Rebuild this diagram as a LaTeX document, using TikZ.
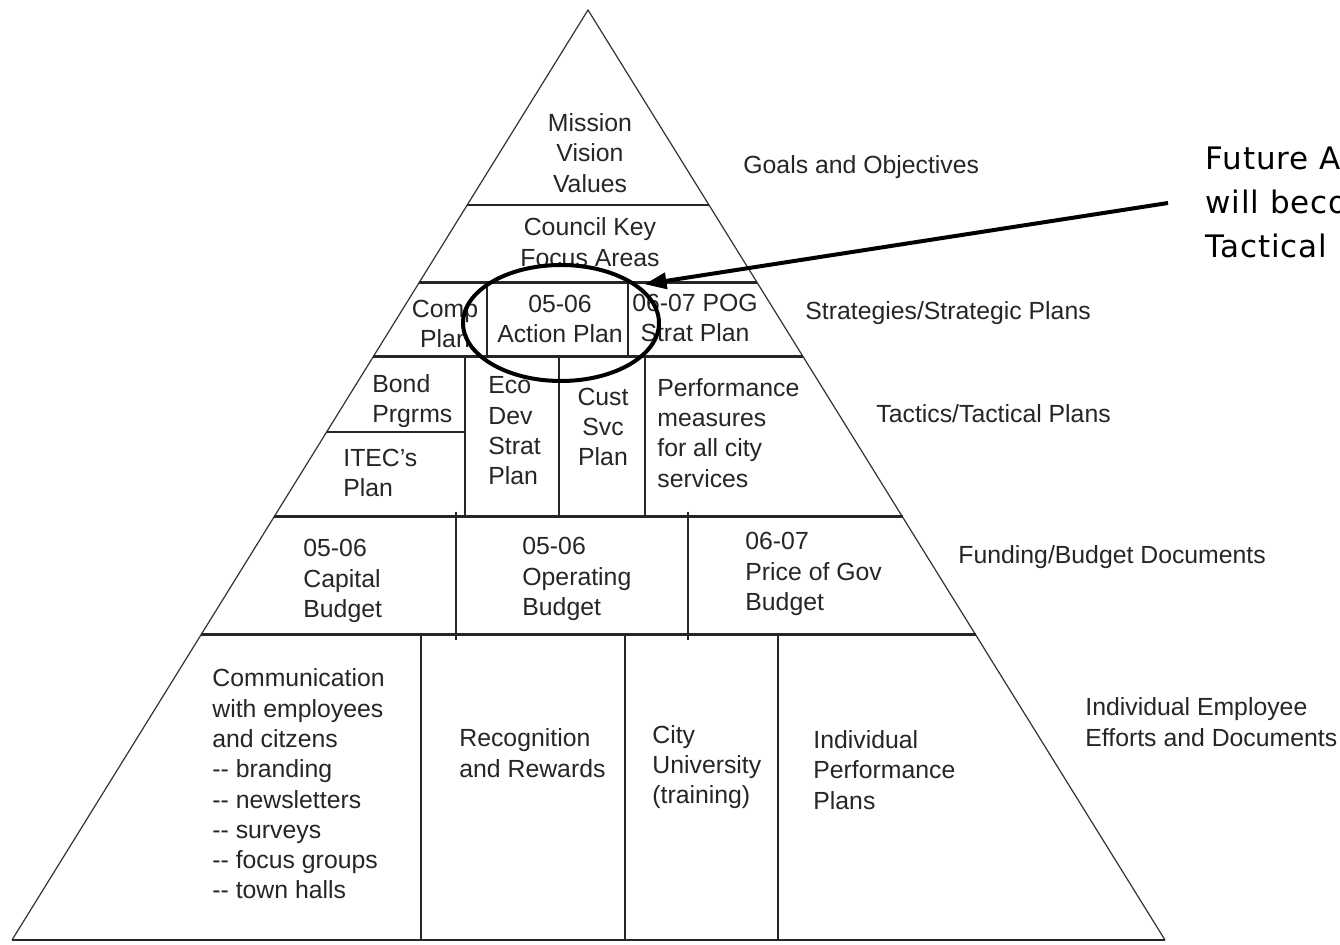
\documentclass[tikz,border=0pt]{standalone}
\usepackage{fontspec}
\setmainfont{Liberation Sans}
\newfontfamily\futfont[LetterSpace=3]{DejaVu Sans}
\usetikzlibrary{arrows.meta,shapes.geometric}
\newcommand\labfont{\fontsize{12.4}{15.15}\selectfont}
\begin{document}
\begin{tikzpicture}[x=0.5pt,y=-0.5pt,
  side/.style={line width=0.6pt,black!80},
  bar/.style={line width=1.5pt,black!85},
  thinbar/.style={line width=0.8pt,black!85},
  divider/.style={line width=0.75pt,black!85},
  lbl/.style={font=\labfont,inner sep=0pt,align=left,anchor=west,text=black!85},
  clbl/.style={font=\labfont,inner sep=0pt,align=center,text=black!85},
  ]
\useasboundingbox (0,0) rectangle (1340,945);
\clip (0,0) rectangle (1340,945);
\fill[white] (0,0) rectangle (1340,945);
% pyramid outline
\coordinate (A) at (588,10);
\coordinate (BL) at (12,940);
\coordinate (BR) at (1165,940);
\draw[side] (BL) -- (A) -- (BR);
\draw[line width=1pt,black!85] (BL) -- (BR);
% horizontal tier lines
\draw[thinbar] (467.2,205) -- (709.0,205);
\draw[bar] (418.9,283) -- (757.4,283);
\draw[bar] (373.1,357) -- (803.3,357);
\draw[thinbar] (326.6,432) -- (465,432);
\draw[bar] (274.0,517) -- (902.6,517);
\draw[bar] (200.9,635) -- (975.8,635);
% vertical dividers
\draw[divider] (487,283) -- (487,357);
\draw[divider] (628,283) -- (628,357);
\draw[divider] (465,357) -- (465,517);
\draw[divider] (559,357) -- (559,517);
\draw[divider] (645,357) -- (645,517);
\draw[divider] (456,512) -- (456,640);
\draw[divider] (688,512) -- (688,640);
\draw[divider] (421,635) -- (421,940);
\draw[divider] (625,635) -- (625,940);
\draw[divider] (778,635) -- (778,940);
% texts inside the pyramid
\node[clbl] (mvv) at (590,153) {Mission\\Vision\\Values};
\node[clbl] (ckf) at (590,242) {Council Key\\Focus Areas};
\node[clbl] (comp) at (445,324) {Comp\\Plan};
\node[clbl] (act) at (560,319) {05-06\\Action Plan};
\node[clbl] (pog) at (695,318) {06-07 POG\\Strat Plan};
\node[lbl] (bond) at (372,401) {Bond\\Prgrms};
\node[lbl] (itec) at (343,473) {ITEC’s\\Plan};
\node[lbl] (eco) at (488,431) {Eco\\Dev\\Strat\\Plan};
\node[clbl] (cust) at (603,427) {Cust\\Svc\\Plan};
\node[lbl] (perf) at (657,433) {Performance\\measures\\for all city\\services};
\node[lbl] (capb) at (303,581) {05-06\\Capital\\Budget};
\node[lbl] (opb) at (522,579) {05-06\\Operating\\Budget};
\node[lbl] (pgb) at (745,574) {06-07\\Price of Gov\\Budget};
\node[lbl] (comm) at (212,784) {Communication\\with employees\\and citzens\\-{}- branding\\-{}- newsletters\\-{}- surveys\\-{}- focus groups\\-{}- town halls};
\node[lbl] (rec) at (459,753) {Recognition\\and Rewards};
\node[lbl] (cu) at (652,767) {City\\University\\(training)};
\node[lbl] (ipp) at (813,770) {Individual\\Performance\\Plans};
% level labels
\node[lbl] (goals) at (743,167) {Goals and Objectives};
\node[lbl] (strat) at (805,313) {Strategies/Strategic Plans};
\node[lbl] (tact) at (876,414) {Tactics/Tactical Plans};
\node[lbl] (fund) at (958,557) {Funding/Budget Documents};
\node[lbl] (indiv) at (1085,722) {Individual Employee\\Efforts and Documents};
% annotation
\node[font=\futfont\fontsize{15.5}{22}\selectfont,inner sep=0pt,align=left,anchor=west] (fut) at (1205,202) {Future A\\will beco\\Tactical};
\node[draw,ellipse,line width=2pt,minimum width=98pt,minimum height=58pt,inner sep=0pt] (circ) at (561,323) {};
\coordinate (src) at (1168,203);
\draw[line width=2pt,-{Triangle[length=11pt,width=8pt]},shorten >=3pt] (src) -- (circ.26);
\end{tikzpicture}
\end{document}
